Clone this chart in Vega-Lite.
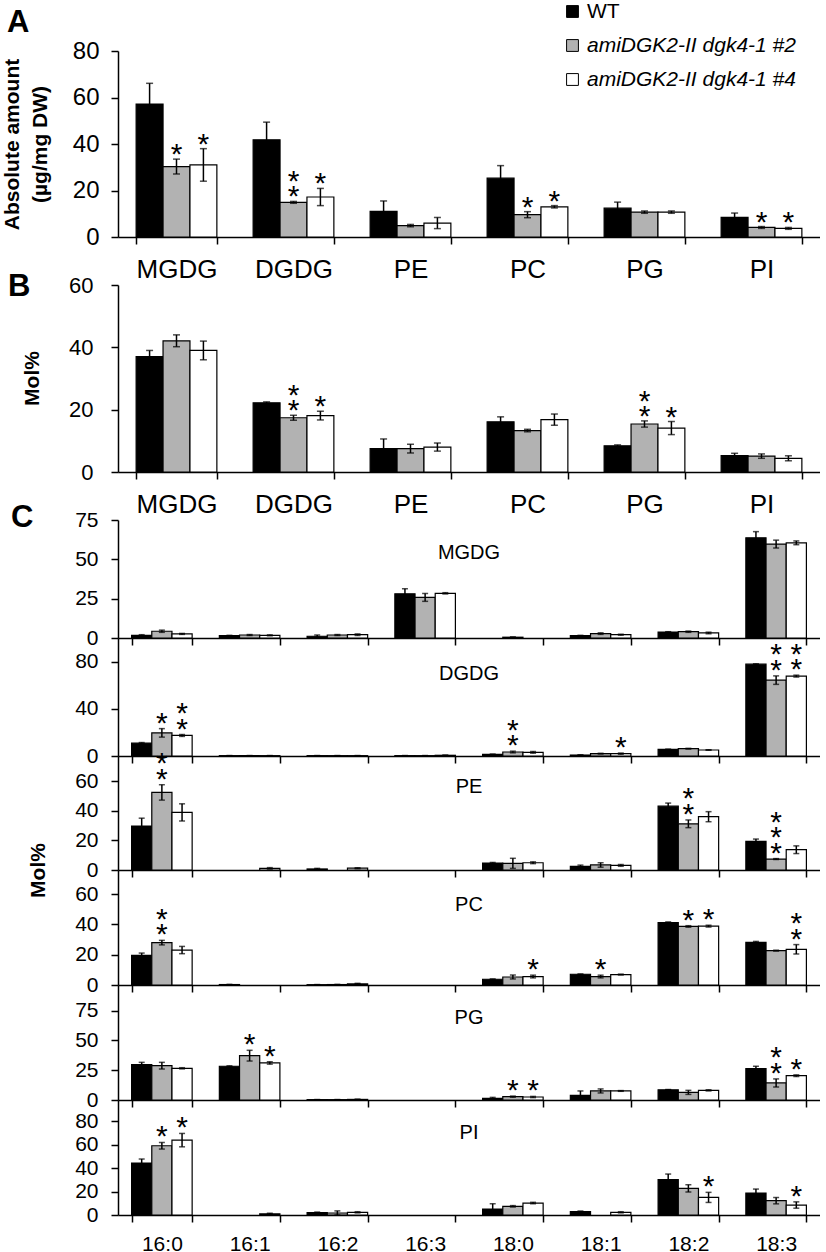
{
"$schema": "https://vega.github.io/schema/vega-lite/v6.json",
"padding": {"left": 0, "top": 1, "right": 0, "bottom": 0},
"autosize": {"type": "pad"},
"background": "white",
"config": {
  "view": {"stroke": null},
  "font": "Liberation Sans",
  "axis": {"domainColor": "black", "tickColor": "black", "labelColor": "black", "titleColor": "black", "domainWidth": 1.5, "tickWidth": 1.5, "tickSize": 7, "grid": false, "labelOverlap": false, "labelFont": "Liberation Sans", "titleFont": "Liberation Sans"},
  "title": {"color": "black", "font": "Liberation Sans"}
},
"datasets": {"d": [
{"p":"A","c":"MGDG","g":"WT","v":57.2,"lo":48.3,"hi":66.1,"s":""},
{"p":"A","c":"MGDG","g":"#2","v":30.3,"lo":27.1,"hi":33.5,"s":"*"},
{"p":"A","c":"MGDG","g":"#4","v":31.0,"lo":24.0,"hi":38.0,"s":"*"},
{"p":"A","c":"DGDG","g":"WT","v":41.8,"lo":34.2,"hi":49.4,"s":""},
{"p":"A","c":"DGDG","g":"#2","v":14.9,"lo":14.5,"hi":15.3,"s":"**"},
{"p":"A","c":"DGDG","g":"#4","v":17.2,"lo":13.5,"hi":20.9,"s":"*"},
{"p":"A","c":"PE","g":"WT","v":11.0,"lo":6.5,"hi":15.5,"s":""},
{"p":"A","c":"PE","g":"#2","v":4.9,"lo":4.4,"hi":5.4,"s":""},
{"p":"A","c":"PE","g":"#4","v":6.0,"lo":3.6,"hi":8.4,"s":""},
{"p":"A","c":"PC","g":"WT","v":25.3,"lo":19.9,"hi":30.7,"s":""},
{"p":"A","c":"PC","g":"#2","v":9.6,"lo":8.3,"hi":10.9,"s":"*"},
{"p":"A","c":"PC","g":"#4","v":13.0,"lo":12.5,"hi":13.5,"s":"*"},
{"p":"A","c":"PG","g":"WT","v":12.4,"lo":9.8,"hi":15.0,"s":""},
{"p":"A","c":"PG","g":"#2","v":10.7,"lo":10.2,"hi":11.2,"s":""},
{"p":"A","c":"PG","g":"#4","v":10.7,"lo":10.2,"hi":11.2,"s":""},
{"p":"A","c":"PI","g":"WT","v":8.4,"lo":6.5,"hi":10.3,"s":""},
{"p":"A","c":"PI","g":"#2","v":4.1,"lo":3.7,"hi":4.5,"s":"*"},
{"p":"A","c":"PI","g":"#4","v":3.7,"lo":3.3,"hi":4.1,"s":"*"},
{"p":"B","c":"MGDG","g":"WT","v":37.0,"lo":35.0,"hi":39.0,"s":""},
{"p":"B","c":"MGDG","g":"#2","v":42.1,"lo":40.2,"hi":44.0,"s":""},
{"p":"B","c":"MGDG","g":"#4","v":39.0,"lo":36.0,"hi":42.0,"s":""},
{"p":"B","c":"DGDG","g":"WT","v":22.2,"lo":21.9,"hi":22.5,"s":""},
{"p":"B","c":"DGDG","g":"#2","v":17.4,"lo":16.6,"hi":18.2,"s":"**"},
{"p":"B","c":"DGDG","g":"#4","v":18.1,"lo":16.7,"hi":19.5,"s":"*"},
{"p":"B","c":"PE","g":"WT","v":7.5,"lo":4.4,"hi":10.6,"s":""},
{"p":"B","c":"PE","g":"#2","v":7.5,"lo":6.1,"hi":8.9,"s":""},
{"p":"B","c":"PE","g":"#4","v":8.0,"lo":6.7,"hi":9.3,"s":""},
{"p":"B","c":"PC","g":"WT","v":16.1,"lo":14.5,"hi":17.7,"s":""},
{"p":"B","c":"PC","g":"#2","v":13.3,"lo":12.9,"hi":13.7,"s":""},
{"p":"B","c":"PC","g":"#4","v":16.8,"lo":15.0,"hi":18.6,"s":""},
{"p":"B","c":"PG","g":"WT","v":8.4,"lo":8.1,"hi":8.7,"s":""},
{"p":"B","c":"PG","g":"#2","v":15.4,"lo":14.4,"hi":16.4,"s":"**"},
{"p":"B","c":"PG","g":"#4","v":14.1,"lo":12.0,"hi":16.2,"s":"*"},
{"p":"B","c":"PI","g":"WT","v":5.25,"lo":4.5,"hi":6.0,"s":""},
{"p":"B","c":"PI","g":"#2","v":5.1,"lo":4.4,"hi":5.8,"s":""},
{"p":"B","c":"PI","g":"#4","v":4.4,"lo":3.6,"hi":5.2,"s":""},
{"p":"MGDG","c":"16:0","g":"WT","v":1.7,"lo":1.3,"hi":2.1,"s":""},
{"p":"MGDG","c":"16:0","g":"#2","v":4.3,"lo":3.6,"hi":5.0,"s":""},
{"p":"MGDG","c":"16:0","g":"#4","v":2.6,"lo":2.3,"hi":2.9,"s":""},
{"p":"MGDG","c":"16:1","g":"WT","v":1.5,"lo":1.3,"hi":1.7,"s":""},
{"p":"MGDG","c":"16:1","g":"#2","v":1.9,"lo":1.6,"hi":2.2,"s":""},
{"p":"MGDG","c":"16:1","g":"#4","v":1.7,"lo":1.4,"hi":2.0,"s":""},
{"p":"MGDG","c":"16:2","g":"WT","v":1.1,"lo":0.3,"hi":1.9,"s":""},
{"p":"MGDG","c":"16:2","g":"#2","v":1.9,"lo":1.6,"hi":2.2,"s":""},
{"p":"MGDG","c":"16:2","g":"#4","v":2.1,"lo":1.6,"hi":2.6,"s":""},
{"p":"MGDG","c":"16:3","g":"WT","v":28.1,"lo":24.9,"hi":31.3,"s":""},
{"p":"MGDG","c":"16:3","g":"#2","v":25.8,"lo":23.3,"hi":28.3,"s":""},
{"p":"MGDG","c":"16:3","g":"#4","v":28.4,"lo":28.0,"hi":28.8,"s":""},
{"p":"MGDG","c":"18:0","g":"#2","v":0.5,"lo":0.3,"hi":0.7,"s":""},
{"p":"MGDG","c":"18:1","g":"WT","v":1.5,"lo":1.3,"hi":1.7,"s":""},
{"p":"MGDG","c":"18:1","g":"#2","v":2.8,"lo":2.3,"hi":3.3,"s":""},
{"p":"MGDG","c":"18:1","g":"#4","v":2.1,"lo":1.8,"hi":2.4,"s":""},
{"p":"MGDG","c":"18:2","g":"WT","v":3.8,"lo":3.6,"hi":4.0,"s":""},
{"p":"MGDG","c":"18:2","g":"#2","v":4.0,"lo":3.6,"hi":4.4,"s":""},
{"p":"MGDG","c":"18:2","g":"#4","v":3.2,"lo":2.7,"hi":3.7,"s":""},
{"p":"MGDG","c":"18:3","g":"WT","v":63.7,"lo":59.8,"hi":67.6,"s":""},
{"p":"MGDG","c":"18:3","g":"#2","v":59.7,"lo":57.2,"hi":62.2,"s":""},
{"p":"MGDG","c":"18:3","g":"#4","v":60.5,"lo":59.3,"hi":61.7,"s":""},
{"p":"DGDG","c":"16:0","g":"WT","v":10.9,"lo":10.4,"hi":11.4,"s":""},
{"p":"DGDG","c":"16:0","g":"#2","v":19.6,"lo":16.0,"hi":23.2,"s":"*"},
{"p":"DGDG","c":"16:0","g":"#4","v":17.4,"lo":16.6,"hi":18.2,"s":"**"},
{"p":"DGDG","c":"16:1","g":"WT","v":0.3,"lo":0.2,"hi":0.4,"s":""},
{"p":"DGDG","c":"16:1","g":"#2","v":0.3,"lo":0.2,"hi":0.4,"s":""},
{"p":"DGDG","c":"16:1","g":"#4","v":0.3,"lo":0.2,"hi":0.4,"s":""},
{"p":"DGDG","c":"16:2","g":"WT","v":0.3,"lo":0.2,"hi":0.4,"s":""},
{"p":"DGDG","c":"16:2","g":"#2","v":0.3,"lo":0.2,"hi":0.4,"s":""},
{"p":"DGDG","c":"16:2","g":"#4","v":0.3,"lo":0.2,"hi":0.4,"s":""},
{"p":"DGDG","c":"16:3","g":"WT","v":0.3,"lo":0.2,"hi":0.4,"s":""},
{"p":"DGDG","c":"16:3","g":"#2","v":0.3,"lo":0.2,"hi":0.4,"s":""},
{"p":"DGDG","c":"16:3","g":"#4","v":0.6,"lo":0.4,"hi":0.8,"s":""},
{"p":"DGDG","c":"18:0","g":"WT","v":1.4,"lo":1.2,"hi":1.6,"s":""},
{"p":"DGDG","c":"18:0","g":"#2","v":3.4,"lo":2.7,"hi":4.1,"s":"**"},
{"p":"DGDG","c":"18:0","g":"#4","v":3.1,"lo":2.4,"hi":3.8,"s":""},
{"p":"DGDG","c":"18:1","g":"WT","v":0.8,"lo":0.6,"hi":1.0,"s":""},
{"p":"DGDG","c":"18:1","g":"#2","v":2.0,"lo":1.7,"hi":2.3,"s":""},
{"p":"DGDG","c":"18:1","g":"#4","v":2.0,"lo":1.5,"hi":2.5,"s":"*"},
{"p":"DGDG","c":"18:2","g":"WT","v":5.6,"lo":5.4,"hi":5.8,"s":""},
{"p":"DGDG","c":"18:2","g":"#2","v":6.2,"lo":5.9,"hi":6.5,"s":""},
{"p":"DGDG","c":"18:2","g":"#4","v":5.1,"lo":4.9,"hi":5.3,"s":""},
{"p":"DGDG","c":"18:3","g":"WT","v":77.8,"lo":77.5,"hi":78.1,"s":""},
{"p":"DGDG","c":"18:3","g":"#2","v":64.3,"lo":60.7,"hi":67.9,"s":"**"},
{"p":"DGDG","c":"18:3","g":"#4","v":67.7,"lo":66.9,"hi":68.5,"s":"**"},
{"p":"PE","c":"16:0","g":"WT","v":29.7,"lo":24.4,"hi":35.0,"s":""},
{"p":"PE","c":"16:0","g":"#2","v":52.4,"lo":47.2,"hi":57.6,"s":"**"},
{"p":"PE","c":"16:0","g":"#4","v":38.9,"lo":33.1,"hi":44.7,"s":""},
{"p":"PE","c":"16:1","g":"#4","v":1.1,"lo":0.6,"hi":1.6,"s":""},
{"p":"PE","c":"16:2","g":"WT","v":0.7,"lo":0.3,"hi":1.1,"s":""},
{"p":"PE","c":"16:2","g":"#4","v":1.2,"lo":0.9,"hi":1.5,"s":""},
{"p":"PE","c":"18:0","g":"WT","v":4.7,"lo":4.3,"hi":5.1,"s":""},
{"p":"PE","c":"18:0","g":"#2","v":4.5,"lo":1.1,"hi":7.9,"s":""},
{"p":"PE","c":"18:0","g":"#4","v":4.9,"lo":4.3,"hi":5.5,"s":""},
{"p":"PE","c":"18:1","g":"WT","v":2.5,"lo":1.7,"hi":3.3,"s":""},
{"p":"PE","c":"18:1","g":"#2","v":3.4,"lo":1.9,"hi":4.9,"s":""},
{"p":"PE","c":"18:1","g":"#4","v":3.1,"lo":2.5,"hi":3.7,"s":""},
{"p":"PE","c":"18:2","g":"WT","v":43.1,"lo":41.0,"hi":45.2,"s":""},
{"p":"PE","c":"18:2","g":"#2","v":31.2,"lo":28.6,"hi":33.8,"s":"**"},
{"p":"PE","c":"18:2","g":"#4","v":36.0,"lo":32.6,"hi":39.4,"s":""},
{"p":"PE","c":"18:3","g":"WT","v":19.3,"lo":17.7,"hi":20.9,"s":""},
{"p":"PE","c":"18:3","g":"#2","v":7.4,"lo":7.1,"hi":7.7,"s":"***"},
{"p":"PE","c":"18:3","g":"#4","v":13.7,"lo":11.1,"hi":16.3,"s":""},
{"p":"PC","c":"16:0","g":"WT","v":19.6,"lo":18.1,"hi":21.1,"s":""},
{"p":"PC","c":"16:0","g":"#2","v":28.0,"lo":26.5,"hi":29.5,"s":"**"},
{"p":"PC","c":"16:0","g":"#4","v":23.1,"lo":20.7,"hi":25.5,"s":""},
{"p":"PC","c":"16:1","g":"WT","v":0.3,"lo":0.2,"hi":0.4,"s":""},
{"p":"PC","c":"16:2","g":"WT","v":0.2,"lo":0.1,"hi":0.3,"s":""},
{"p":"PC","c":"16:2","g":"#2","v":0.3,"lo":0.2,"hi":0.4,"s":""},
{"p":"PC","c":"16:2","g":"#4","v":0.8,"lo":0.5,"hi":1.1,"s":""},
{"p":"PC","c":"18:0","g":"WT","v":3.8,"lo":3.6,"hi":4.0,"s":""},
{"p":"PC","c":"18:0","g":"#2","v":5.3,"lo":4.0,"hi":6.6,"s":""},
{"p":"PC","c":"18:0","g":"#4","v":5.6,"lo":4.7,"hi":6.5,"s":"*"},
{"p":"PC","c":"18:1","g":"WT","v":7.1,"lo":6.9,"hi":7.3,"s":""},
{"p":"PC","c":"18:1","g":"#2","v":5.6,"lo":4.7,"hi":6.5,"s":"*"},
{"p":"PC","c":"18:1","g":"#4","v":6.9,"lo":6.6,"hi":7.2,"s":""},
{"p":"PC","c":"18:2","g":"WT","v":41.3,"lo":40.9,"hi":41.7,"s":""},
{"p":"PC","c":"18:2","g":"#2","v":38.7,"lo":38.2,"hi":39.2,"s":"*"},
{"p":"PC","c":"18:2","g":"#4","v":38.9,"lo":38.3,"hi":39.5,"s":"*"},
{"p":"PC","c":"18:3","g":"WT","v":28.2,"lo":27.6,"hi":28.8,"s":""},
{"p":"PC","c":"18:3","g":"#2","v":22.7,"lo":22.4,"hi":23.0,"s":""},
{"p":"PC","c":"18:3","g":"#4","v":23.6,"lo":20.5,"hi":26.7,"s":"**"},
{"p":"PG","c":"16:0","g":"WT","v":29.7,"lo":27.8,"hi":31.6,"s":""},
{"p":"PG","c":"16:0","g":"#2","v":28.8,"lo":26.0,"hi":31.6,"s":""},
{"p":"PG","c":"16:0","g":"#4","v":26.6,"lo":26.1,"hi":27.1,"s":""},
{"p":"PG","c":"16:1","g":"WT","v":28.3,"lo":27.9,"hi":28.7,"s":""},
{"p":"PG","c":"16:1","g":"#2","v":37.2,"lo":32.7,"hi":41.7,"s":"*"},
{"p":"PG","c":"16:1","g":"#4","v":31.1,"lo":30.1,"hi":32.1,"s":"*"},
{"p":"PG","c":"16:2","g":"WT","v":0.3,"lo":0.2,"hi":0.4,"s":""},
{"p":"PG","c":"16:2","g":"#2","v":0.3,"lo":0.2,"hi":0.4,"s":""},
{"p":"PG","c":"16:2","g":"#4","v":0.5,"lo":0.3,"hi":0.7,"s":""},
{"p":"PG","c":"18:0","g":"WT","v":1.4,"lo":0.6,"hi":2.2,"s":""},
{"p":"PG","c":"18:0","g":"#2","v":2.8,"lo":2.3,"hi":3.3,"s":"*"},
{"p":"PG","c":"18:0","g":"#4","v":2.5,"lo":2.0,"hi":3.0,"s":"*"},
{"p":"PG","c":"18:1","g":"WT","v":3.9,"lo":0.2,"hi":7.6,"s":""},
{"p":"PG","c":"18:1","g":"#2","v":7.6,"lo":5.9,"hi":9.3,"s":""},
{"p":"PG","c":"18:1","g":"#4","v":7.6,"lo":7.3,"hi":7.9,"s":""},
{"p":"PG","c":"18:2","g":"WT","v":8.6,"lo":8.4,"hi":8.8,"s":""},
{"p":"PG","c":"18:2","g":"#2","v":6.4,"lo":4.7,"hi":8.1,"s":""},
{"p":"PG","c":"18:2","g":"#4","v":8.1,"lo":7.6,"hi":8.6,"s":""},
{"p":"PG","c":"18:3","g":"WT","v":26.3,"lo":24.3,"hi":28.3,"s":""},
{"p":"PG","c":"18:3","g":"#2","v":14.3,"lo":10.9,"hi":17.7,"s":"**"},
{"p":"PG","c":"18:3","g":"#4","v":20.4,"lo":19.7,"hi":21.1,"s":"*"},
{"p":"PI","c":"16:0","g":"WT","v":44.3,"lo":40.9,"hi":47.7,"s":""},
{"p":"PI","c":"16:0","g":"#2","v":59.0,"lo":56.2,"hi":61.8,"s":"*"},
{"p":"PI","c":"16:0","g":"#4","v":63.8,"lo":58.1,"hi":69.5,"s":"*"},
{"p":"PI","c":"16:1","g":"#4","v":1.0,"lo":0.5,"hi":1.5,"s":""},
{"p":"PI","c":"16:2","g":"WT","v":2.0,"lo":1.5,"hi":2.5,"s":""},
{"p":"PI","c":"16:2","g":"#2","v":1.7,"lo":0.0,"hi":3.5,"s":""},
{"p":"PI","c":"16:2","g":"#4","v":2.3,"lo":1.8,"hi":2.8,"s":""},
{"p":"PI","c":"18:0","g":"WT","v":5.1,"lo":0.6,"hi":9.6,"s":""},
{"p":"PI","c":"18:0","g":"#2","v":7.4,"lo":6.8,"hi":8.0,"s":""},
{"p":"PI","c":"18:0","g":"#4","v":10.2,"lo":9.6,"hi":10.8,"s":""},
{"p":"PI","c":"18:1","g":"WT","v":2.8,"lo":2.2,"hi":3.4,"s":""},
{"p":"PI","c":"18:1","g":"#4","v":2.3,"lo":1.8,"hi":2.8,"s":""},
{"p":"PI","c":"18:2","g":"WT","v":30.1,"lo":25.3,"hi":34.9,"s":""},
{"p":"PI","c":"18:2","g":"#2","v":22.7,"lo":19.6,"hi":25.8,"s":""},
{"p":"PI","c":"18:2","g":"#4","v":15.0,"lo":10.7,"hi":19.3,"s":"*"},
{"p":"PI","c":"18:3","g":"WT","v":18.7,"lo":15.3,"hi":22.1,"s":""},
{"p":"PI","c":"18:3","g":"#2","v":12.2,"lo":9.5,"hi":14.9,"s":""},
{"p":"PI","c":"18:3","g":"#4","v":8.5,"lo":5.8,"hi":11.2,"s":"*"}
]},
"bounds": "flush",
"spacing": 48,
"resolve": {"scale": {"x": "independent", "y": "independent", "xOffset": "independent", "fill": "independent"}, "legend": {"fill": "independent"}},
"vconcat": [
{
  "width": 702, "height": 186,
  "title": {"text": "A", "anchor": "start", "frame": "group", "fontSize": 31, "fontWeight": "bold", "dx": -111, "offset": 0, "dy": 62, "baseline": "alphabetic"},
  "data": {"name": "d"},
  "transform": [{"filter": "datum.p == 'A'"}],
  "encoding": {
    "x": {"field": "c", "type": "nominal", "sort": ["MGDG","DGDG","PE","PC","PG","PI"], "scale": {"domain": ["MGDG","DGDG","PE","PC","PG","PI"], "paddingInner": 0.31, "paddingOuter": 0.155}, "axis": {"title": null, "tickBand": "extent", "labelAngle": 0, "labelFontSize": 26, "labelPadding": 12}},
    "xOffset": {"field": "g", "type": "nominal", "scale": {"domain": ["WT","#2","#4"]}}
  },
  "layer": [
    {"mark": {"type": "bar", "stroke": "black", "strokeWidth": 1.2},
     "encoding": {
       "y": {"field": "v", "type": "quantitative", "scale": {"domain": [0, 80], "nice": false}, "axis": {"title": ["Absolute amount", "(µg/mg DW)"], "values": [0,20,40,60,80], "labelOverlap": false, "labelFontSize": 24, "labelPadding": 12, "titleFontSize": 21, "titleFontWeight": "bold", "titleX": -106, "titleY": 93, "titleAngle": -90, "titleBaseline": "middle", "titleAlign": "center", "titleLineHeight": 28}},
       "fill": {"field": "g", "type": "nominal", "scale": {"domain": ["WT","#2","#4"], "range": ["#000000","#b2b2b2","#ffffff"]},
         "legend": {"orient": "none", "legendX": 444, "legendY": -50, "title": null, "symbolType": "square", "symbolSize": 140, "symbolStrokeColor": "black", "symbolStrokeWidth": 1, "labelFontSize": 21, "labelOffset": 4, "rowPadding": 12, "padding": 0, "labelLimit": 0, "labelColor": "black",
           "labelExpr": "datum.value == 'WT' ? 'WT' : 'amiDGK2-II dgk4-1 ' + datum.value",
           "encode": {"labels": {"update": {"fontStyle": {"signal": "datum.value == 'WT' ? 'normal' : 'italic'"}}}}}}
     }},
    {"mark": {"type": "rule", "strokeWidth": 1.5, "color": "black"}, "encoding": {"y": {"field": "lo", "type": "quantitative"}, "y2": {"field": "hi"}}},
    {"mark": {"type": "tick", "color": "black", "thickness": 1.5, "size": 7}, "encoding": {"y": {"field": "hi", "type": "quantitative"}}},
    {"mark": {"type": "tick", "color": "black", "thickness": 1.5, "size": 7}, "encoding": {"y": {"field": "lo", "type": "quantitative"}}},
    {"transform": [{"filter": "length(datum.s) >= 1"}], "mark": {"type": "text", "text": "*", "fontSize": 30, "baseline": "bottom", "dy": 11, "color": "black"}, "encoding": {"y": {"field": "hi", "type": "quantitative"}}},
    {"transform": [{"filter": "length(datum.s) >= 2"}], "mark": {"type": "text", "text": "*", "fontSize": 30, "baseline": "bottom", "dy": -4, "color": "black"}, "encoding": {"y": {"field": "hi", "type": "quantitative"}}}
  ]
},
{
  "width": 702, "height": 187,
  "title": {"text": "B", "anchor": "start", "frame": "group", "fontSize": 31, "fontWeight": "bold", "dx": -110, "offset": 0, "dy": 53, "baseline": "alphabetic"},
  "data": {"name": "d"},
  "transform": [{"filter": "datum.p == 'B'"}],
  "encoding": {
    "x": {"field": "c", "type": "nominal", "sort": ["MGDG","DGDG","PE","PC","PG","PI"], "scale": {"domain": ["MGDG","DGDG","PE","PC","PG","PI"], "paddingInner": 0.31, "paddingOuter": 0.155}, "axis": {"title": null, "tickBand": "extent", "labelAngle": 0, "labelFontSize": 26, "labelPadding": 12}},
    "xOffset": {"field": "g", "type": "nominal", "scale": {"domain": ["WT","#2","#4"]}}
  },
  "layer": [
    {"mark": {"type": "bar", "stroke": "black", "strokeWidth": 1.2},
     "encoding": {
       "y": {"field": "v", "type": "quantitative", "scale": {"domain": [0, 60], "nice": false}, "axis": {"title": "Mol%", "values": [0,20,40,60], "labelOverlap": false, "labelFontSize": 22, "labelPadding": 18, "titleFontSize": 21, "titleFontWeight": "bold", "titleX": -86, "titleY": 93, "titleAngle": -90, "titleBaseline": "middle", "titleAlign": "center"}},
       "fill": {"field": "g", "type": "nominal", "scale": {"domain": ["WT","#2","#4"], "range": ["#000000","#b2b2b2","#ffffff"]}, "legend": null}
     }},
    {"mark": {"type": "rule", "strokeWidth": 1.5, "color": "black"}, "encoding": {"y": {"field": "lo", "type": "quantitative"}, "y2": {"field": "hi"}}},
    {"mark": {"type": "tick", "color": "black", "thickness": 1.5, "size": 7}, "encoding": {"y": {"field": "hi", "type": "quantitative"}}},
    {"mark": {"type": "tick", "color": "black", "thickness": 1.5, "size": 7}, "encoding": {"y": {"field": "lo", "type": "quantitative"}}},
    {"transform": [{"filter": "length(datum.s) >= 1"}], "mark": {"type": "text", "text": "*", "fontSize": 30, "baseline": "bottom", "dy": 11, "color": "black"}, "encoding": {"y": {"field": "hi", "type": "quantitative"}}},
    {"transform": [{"filter": "length(datum.s) >= 2"}], "mark": {"type": "text", "text": "*", "fontSize": 30, "baseline": "bottom", "dy": -4, "color": "black"}, "encoding": {"y": {"field": "hi", "type": "quantitative"}}}
  ]
},
{
  "title": {"text": "C", "anchor": "start", "frame": "group", "fontSize": 31, "fontWeight": "bold", "dx": -107, "offset": 0, "dy": 49, "baseline": "alphabetic"},
  "bounds": "flush",
  "spacing": 0,
  "resolve": {"scale": {"x": "independent", "y": "independent", "xOffset": "independent", "fill": "independent"}, "legend": {"fill": "independent"}},
  "vconcat": [
  {
    "width": 702, "height": 118,
    "title": {"text": "MGDG", "anchor": "middle", "frame": "group", "fontSize": 20, "fontWeight": "normal", "offset": 0, "baseline": "top", "dy": 54},
    "data": {"name": "d"},
    "transform": [{"filter": "datum.p == 'MGDG'"}],
    "encoding": {
      "x": {"field": "c", "type": "nominal", "scale": {"domain": ["16:0","16:1","16:2","16:3","18:0","18:1","18:2","18:3"], "paddingInner": 0.31, "paddingOuter": 0.155}, "axis": {"title": null, "tickBand": "extent", "labels": false}},
      "xOffset": {"field": "g", "type": "nominal", "scale": {"domain": ["WT","#2","#4"]}}
    },
    "layer": [
      {"mark": {"type": "bar", "stroke": "black", "strokeWidth": 1.2},
       "encoding": {
         "y": {"field": "v", "type": "quantitative", "scale": {"domain": [0, 75], "nice": false}, "axis": {"title": null, "values": [0,25,50,75], "labelOverlap": false, "labelFontSize": 21, "labelPadding": 13}},
         "fill": {"field": "g", "type": "nominal", "scale": {"domain": ["WT","#2","#4"], "range": ["#000000","#b2b2b2","#ffffff"]}, "legend": null}
       }},
      {"mark": {"type": "rule", "strokeWidth": 1.5, "color": "black"}, "encoding": {"y": {"field": "lo", "type": "quantitative", "axis": {"title": null, "values": [0,25,50,75], "labelOverlap": false, "labelFontSize": 21, "labelPadding": 13}}, "y2": {"field": "hi"}}},
      {"mark": {"type": "tick", "color": "black", "thickness": 1.5, "size": 6}, "encoding": {"y": {"field": "hi", "type": "quantitative", "axis": {"title": null, "values": [0,25,50,75], "labelOverlap": false, "labelFontSize": 21, "labelPadding": 13}}}},
      {"mark": {"type": "tick", "color": "black", "thickness": 1.5, "size": 6}, "encoding": {"y": {"field": "lo", "type": "quantitative", "axis": {"title": null, "values": [0,25,50,75], "labelOverlap": false, "labelFontSize": 21, "labelPadding": 13}}}},
      {"transform": [{"filter": "length(datum.s) >= 1"}], "mark": {"type": "text", "text": "*", "fontSize": 30, "baseline": "bottom", "dy": 10, "color": "black"}, "encoding": {"y": {"field": "hi", "type": "quantitative", "axis": {"title": null, "values": [0,25,50,75], "labelOverlap": false, "labelFontSize": 21, "labelPadding": 13}}}},
      {"transform": [{"filter": "length(datum.s) >= 2"}], "mark": {"type": "text", "text": "*", "fontSize": 30, "baseline": "bottom", "dy": -5.5, "color": "black"}, "encoding": {"y": {"field": "hi", "type": "quantitative", "axis": {"title": null, "values": [0,25,50,75], "labelOverlap": false, "labelFontSize": 21, "labelPadding": 13}}}}
    ]
  },
  {
    "width": 702, "height": 118,
    "title": {"text": "DGDG", "anchor": "middle", "frame": "group", "fontSize": 20, "fontWeight": "normal", "offset": 0, "baseline": "top", "dy": 46},
    "data": {"name": "d"},
    "transform": [{"filter": "datum.p == 'DGDG'"}],
    "encoding": {
      "x": {"field": "c", "type": "nominal", "scale": {"domain": ["16:0","16:1","16:2","16:3","18:0","18:1","18:2","18:3"], "paddingInner": 0.31, "paddingOuter": 0.155}, "axis": {"title": null, "tickBand": "extent", "labels": false}},
      "xOffset": {"field": "g", "type": "nominal", "scale": {"domain": ["WT","#2","#4"]}}
    },
    "layer": [
      {"mark": {"type": "bar", "stroke": "black", "strokeWidth": 1.2},
       "encoding": {
         "y": {"field": "v", "type": "quantitative", "scale": {"domain": [0, 100], "nice": false}, "axis": {"title": null, "values": [0,40,80], "labelOverlap": false, "labelFontSize": 21, "labelPadding": 13}},
         "fill": {"field": "g", "type": "nominal", "scale": {"domain": ["WT","#2","#4"], "range": ["#000000","#b2b2b2","#ffffff"]}, "legend": null}
       }},
      {"mark": {"type": "rule", "strokeWidth": 1.5, "color": "black"}, "encoding": {"y": {"field": "lo", "type": "quantitative", "axis": {"title": null, "values": [0,40,80], "labelOverlap": false, "labelFontSize": 21, "labelPadding": 13}}, "y2": {"field": "hi"}}},
      {"mark": {"type": "tick", "color": "black", "thickness": 1.5, "size": 6}, "encoding": {"y": {"field": "hi", "type": "quantitative", "axis": {"title": null, "values": [0,40,80], "labelOverlap": false, "labelFontSize": 21, "labelPadding": 13}}}},
      {"mark": {"type": "tick", "color": "black", "thickness": 1.5, "size": 6}, "encoding": {"y": {"field": "lo", "type": "quantitative", "axis": {"title": null, "values": [0,40,80], "labelOverlap": false, "labelFontSize": 21, "labelPadding": 13}}}},
      {"transform": [{"filter": "length(datum.s) >= 1"}], "mark": {"type": "text", "text": "*", "fontSize": 30, "baseline": "bottom", "dy": 10, "color": "black"}, "encoding": {"y": {"field": "hi", "type": "quantitative", "axis": {"title": null, "values": [0,40,80], "labelOverlap": false, "labelFontSize": 21, "labelPadding": 13}}}},
      {"transform": [{"filter": "length(datum.s) >= 2"}], "mark": {"type": "text", "text": "*", "fontSize": 30, "baseline": "bottom", "dy": -5.5, "color": "black"}, "encoding": {"y": {"field": "hi", "type": "quantitative", "axis": {"title": null, "values": [0,40,80], "labelOverlap": false, "labelFontSize": 21, "labelPadding": 13}}}}
    ]
  },
  {
    "width": 702, "height": 114,
    "title": {"text": "PE", "anchor": "middle", "frame": "group", "fontSize": 20, "fontWeight": "normal", "offset": 0, "baseline": "top", "dy": 48},
    "data": {"name": "d"},
    "transform": [{"filter": "datum.p == 'PE'"}],
    "encoding": {
      "x": {"field": "c", "type": "nominal", "scale": {"domain": ["16:0","16:1","16:2","16:3","18:0","18:1","18:2","18:3"], "paddingInner": 0.31, "paddingOuter": 0.155}, "axis": {"title": null, "tickBand": "extent", "labels": false}},
      "xOffset": {"field": "g", "type": "nominal", "scale": {"domain": ["WT","#2","#4"]}}
    },
    "layer": [
      {"mark": {"type": "bar", "stroke": "black", "strokeWidth": 1.2},
       "encoding": {
         "y": {"field": "v", "type": "quantitative", "scale": {"domain": [0, 77], "nice": false}, "axis": {"title": "Mol%", "values": [0,20,40,60], "labelOverlap": false, "labelFontSize": 21, "labelPadding": 13, "titleFontSize": 21, "titleFontWeight": "bold", "titleX": -80, "titleY": 114, "titleAngle": -90, "titleBaseline": "middle", "titleAlign": "center"}},
         "fill": {"field": "g", "type": "nominal", "scale": {"domain": ["WT","#2","#4"], "range": ["#000000","#b2b2b2","#ffffff"]}, "legend": null}
       }},
      {"mark": {"type": "rule", "strokeWidth": 1.5, "color": "black"}, "encoding": {"y": {"field": "lo", "type": "quantitative", "axis": {"title": "Mol%", "values": [0,20,40,60], "labelOverlap": false, "labelFontSize": 21, "labelPadding": 13, "titleFontSize": 21, "titleFontWeight": "bold", "titleX": -80, "titleY": 114, "titleAngle": -90, "titleBaseline": "middle", "titleAlign": "center"}}, "y2": {"field": "hi"}}},
      {"mark": {"type": "tick", "color": "black", "thickness": 1.5, "size": 6}, "encoding": {"y": {"field": "hi", "type": "quantitative", "axis": {"title": "Mol%", "values": [0,20,40,60], "labelOverlap": false, "labelFontSize": 21, "labelPadding": 13, "titleFontSize": 21, "titleFontWeight": "bold", "titleX": -80, "titleY": 114, "titleAngle": -90, "titleBaseline": "middle", "titleAlign": "center"}}}},
      {"mark": {"type": "tick", "color": "black", "thickness": 1.5, "size": 6}, "encoding": {"y": {"field": "lo", "type": "quantitative", "axis": {"title": "Mol%", "values": [0,20,40,60], "labelOverlap": false, "labelFontSize": 21, "labelPadding": 13, "titleFontSize": 21, "titleFontWeight": "bold", "titleX": -80, "titleY": 114, "titleAngle": -90, "titleBaseline": "middle", "titleAlign": "center"}}}},
      {"transform": [{"filter": "length(datum.s) >= 1"}], "mark": {"type": "text", "text": "*", "fontSize": 30, "baseline": "bottom", "dy": 10, "color": "black"}, "encoding": {"y": {"field": "hi", "type": "quantitative", "axis": {"title": "Mol%", "values": [0,20,40,60], "labelOverlap": false, "labelFontSize": 21, "labelPadding": 13, "titleFontSize": 21, "titleFontWeight": "bold", "titleX": -80, "titleY": 114, "titleAngle": -90, "titleBaseline": "middle", "titleAlign": "center"}}}},
      {"transform": [{"filter": "length(datum.s) >= 2"}], "mark": {"type": "text", "text": "*", "fontSize": 30, "baseline": "bottom", "dy": -5.5, "color": "black"}, "encoding": {"y": {"field": "hi", "type": "quantitative", "axis": {"title": "Mol%", "values": [0,20,40,60], "labelOverlap": false, "labelFontSize": 21, "labelPadding": 13, "titleFontSize": 21, "titleFontWeight": "bold", "titleX": -80, "titleY": 114, "titleAngle": -90, "titleBaseline": "middle", "titleAlign": "center"}}}},
      {"transform": [{"filter": "length(datum.s) >= 3"}], "mark": {"type": "text", "text": "*", "fontSize": 30, "baseline": "bottom", "dy": -21, "color": "black"}, "encoding": {"y": {"field": "hi", "type": "quantitative", "axis": {"title": "Mol%", "values": [0,20,40,60], "labelOverlap": false, "labelFontSize": 21, "labelPadding": 13, "titleFontSize": 21, "titleFontWeight": "bold", "titleX": -80, "titleY": 114, "titleAngle": -90, "titleBaseline": "middle", "titleAlign": "center"}}}}
    ]
  },
  {
    "width": 702, "height": 115,
    "title": {"text": "PC", "anchor": "middle", "frame": "group", "fontSize": 20, "fontWeight": "normal", "offset": 0, "baseline": "top", "dy": 45},
    "data": {"name": "d"},
    "transform": [{"filter": "datum.p == 'PC'"}],
    "encoding": {
      "x": {"field": "c", "type": "nominal", "scale": {"domain": ["16:0","16:1","16:2","16:3","18:0","18:1","18:2","18:3"], "paddingInner": 0.31, "paddingOuter": 0.155}, "axis": {"title": null, "tickBand": "extent", "labels": false}},
      "xOffset": {"field": "g", "type": "nominal", "scale": {"domain": ["WT","#2","#4"]}}
    },
    "layer": [
      {"mark": {"type": "bar", "stroke": "black", "strokeWidth": 1.2},
       "encoding": {
         "y": {"field": "v", "type": "quantitative", "scale": {"domain": [0, 76], "nice": false}, "axis": {"title": null, "values": [0,20,40,60], "labelOverlap": false, "labelFontSize": 21, "labelPadding": 13}},
         "fill": {"field": "g", "type": "nominal", "scale": {"domain": ["WT","#2","#4"], "range": ["#000000","#b2b2b2","#ffffff"]}, "legend": null}
       }},
      {"mark": {"type": "rule", "strokeWidth": 1.5, "color": "black"}, "encoding": {"y": {"field": "lo", "type": "quantitative", "axis": {"title": null, "values": [0,20,40,60], "labelOverlap": false, "labelFontSize": 21, "labelPadding": 13}}, "y2": {"field": "hi"}}},
      {"mark": {"type": "tick", "color": "black", "thickness": 1.5, "size": 6}, "encoding": {"y": {"field": "hi", "type": "quantitative", "axis": {"title": null, "values": [0,20,40,60], "labelOverlap": false, "labelFontSize": 21, "labelPadding": 13}}}},
      {"mark": {"type": "tick", "color": "black", "thickness": 1.5, "size": 6}, "encoding": {"y": {"field": "lo", "type": "quantitative", "axis": {"title": null, "values": [0,20,40,60], "labelOverlap": false, "labelFontSize": 21, "labelPadding": 13}}}},
      {"transform": [{"filter": "length(datum.s) >= 1"}], "mark": {"type": "text", "text": "*", "fontSize": 30, "baseline": "bottom", "dy": 10, "color": "black"}, "encoding": {"y": {"field": "hi", "type": "quantitative", "axis": {"title": null, "values": [0,20,40,60], "labelOverlap": false, "labelFontSize": 21, "labelPadding": 13}}}},
      {"transform": [{"filter": "length(datum.s) >= 2"}], "mark": {"type": "text", "text": "*", "fontSize": 30, "baseline": "bottom", "dy": -5.5, "color": "black"}, "encoding": {"y": {"field": "hi", "type": "quantitative", "axis": {"title": null, "values": [0,20,40,60], "labelOverlap": false, "labelFontSize": 21, "labelPadding": 13}}}}
    ]
  },
  {
    "width": 702, "height": 115,
    "title": {"text": "PG", "anchor": "middle", "frame": "group", "fontSize": 20, "fontWeight": "normal", "offset": 0, "baseline": "top", "dy": 43},
    "data": {"name": "d"},
    "transform": [{"filter": "datum.p == 'PG'"}],
    "encoding": {
      "x": {"field": "c", "type": "nominal", "scale": {"domain": ["16:0","16:1","16:2","16:3","18:0","18:1","18:2","18:3"], "paddingInner": 0.31, "paddingOuter": 0.155}, "axis": {"title": null, "tickBand": "extent", "labels": false}},
      "xOffset": {"field": "g", "type": "nominal", "scale": {"domain": ["WT","#2","#4"]}}
    },
    "layer": [
      {"mark": {"type": "bar", "stroke": "black", "strokeWidth": 1.2},
       "encoding": {
         "y": {"field": "v", "type": "quantitative", "scale": {"domain": [0, 96.5], "nice": false}, "axis": {"title": null, "values": [0,25,50,75], "labelOverlap": false, "labelFontSize": 21, "labelPadding": 13}},
         "fill": {"field": "g", "type": "nominal", "scale": {"domain": ["WT","#2","#4"], "range": ["#000000","#b2b2b2","#ffffff"]}, "legend": null}
       }},
      {"mark": {"type": "rule", "strokeWidth": 1.5, "color": "black"}, "encoding": {"y": {"field": "lo", "type": "quantitative", "axis": {"title": null, "values": [0,25,50,75], "labelOverlap": false, "labelFontSize": 21, "labelPadding": 13}}, "y2": {"field": "hi"}}},
      {"mark": {"type": "tick", "color": "black", "thickness": 1.5, "size": 6}, "encoding": {"y": {"field": "hi", "type": "quantitative", "axis": {"title": null, "values": [0,25,50,75], "labelOverlap": false, "labelFontSize": 21, "labelPadding": 13}}}},
      {"mark": {"type": "tick", "color": "black", "thickness": 1.5, "size": 6}, "encoding": {"y": {"field": "lo", "type": "quantitative", "axis": {"title": null, "values": [0,25,50,75], "labelOverlap": false, "labelFontSize": 21, "labelPadding": 13}}}},
      {"transform": [{"filter": "length(datum.s) >= 1"}], "mark": {"type": "text", "text": "*", "fontSize": 30, "baseline": "bottom", "dy": 10, "color": "black"}, "encoding": {"y": {"field": "hi", "type": "quantitative", "axis": {"title": null, "values": [0,25,50,75], "labelOverlap": false, "labelFontSize": 21, "labelPadding": 13}}}},
      {"transform": [{"filter": "length(datum.s) >= 2"}], "mark": {"type": "text", "text": "*", "fontSize": 30, "baseline": "bottom", "dy": -5.5, "color": "black"}, "encoding": {"y": {"field": "hi", "type": "quantitative", "axis": {"title": null, "values": [0,25,50,75], "labelOverlap": false, "labelFontSize": 21, "labelPadding": 13}}}}
    ]
  },
  {
    "width": 702, "height": 115,
    "title": {"text": "PI", "anchor": "middle", "frame": "group", "fontSize": 20, "fontWeight": "normal", "offset": 0, "baseline": "top", "dy": 43},
    "data": {"name": "d"},
    "transform": [{"filter": "datum.p == 'PI'"}],
    "encoding": {
      "x": {"field": "c", "type": "nominal", "scale": {"domain": ["16:0","16:1","16:2","16:3","18:0","18:1","18:2","18:3"], "paddingInner": 0.31, "paddingOuter": 0.155}, "axis": {"title": null, "tickBand": "extent", "labelAngle": 0, "labelFontSize": 21, "labelPadding": 11}},
      "xOffset": {"field": "g", "type": "nominal", "scale": {"domain": ["WT","#2","#4"]}}
    },
    "layer": [
      {"mark": {"type": "bar", "stroke": "black", "strokeWidth": 1.2},
       "encoding": {
         "y": {"field": "v", "type": "quantitative", "scale": {"domain": [0, 98], "nice": false}, "axis": {"title": null, "values": [0,20,40,60,80], "labelOverlap": false, "labelFontSize": 21, "labelPadding": 13}},
         "fill": {"field": "g", "type": "nominal", "scale": {"domain": ["WT","#2","#4"], "range": ["#000000","#b2b2b2","#ffffff"]}, "legend": null}
       }},
      {"mark": {"type": "rule", "strokeWidth": 1.5, "color": "black"}, "encoding": {"y": {"field": "lo", "type": "quantitative", "axis": {"title": null, "values": [0,20,40,60,80], "labelOverlap": false, "labelFontSize": 21, "labelPadding": 13}}, "y2": {"field": "hi"}}},
      {"mark": {"type": "tick", "color": "black", "thickness": 1.5, "size": 6}, "encoding": {"y": {"field": "hi", "type": "quantitative", "axis": {"title": null, "values": [0,20,40,60,80], "labelOverlap": false, "labelFontSize": 21, "labelPadding": 13}}}},
      {"mark": {"type": "tick", "color": "black", "thickness": 1.5, "size": 6}, "encoding": {"y": {"field": "lo", "type": "quantitative", "axis": {"title": null, "values": [0,20,40,60,80], "labelOverlap": false, "labelFontSize": 21, "labelPadding": 13}}}},
      {"transform": [{"filter": "length(datum.s) >= 1"}], "mark": {"type": "text", "text": "*", "fontSize": 30, "baseline": "bottom", "dy": 10, "color": "black"}, "encoding": {"y": {"field": "hi", "type": "quantitative", "axis": {"title": null, "values": [0,20,40,60,80], "labelOverlap": false, "labelFontSize": 21, "labelPadding": 13}}}},
      {"transform": [{"filter": "length(datum.s) >= 2"}], "mark": {"type": "text", "text": "*", "fontSize": 30, "baseline": "bottom", "dy": -5.5, "color": "black"}, "encoding": {"y": {"field": "hi", "type": "quantitative", "axis": {"title": null, "values": [0,20,40,60,80], "labelOverlap": false, "labelFontSize": 21, "labelPadding": 13}}}}
    ]
  }
  ]
}
]
}
